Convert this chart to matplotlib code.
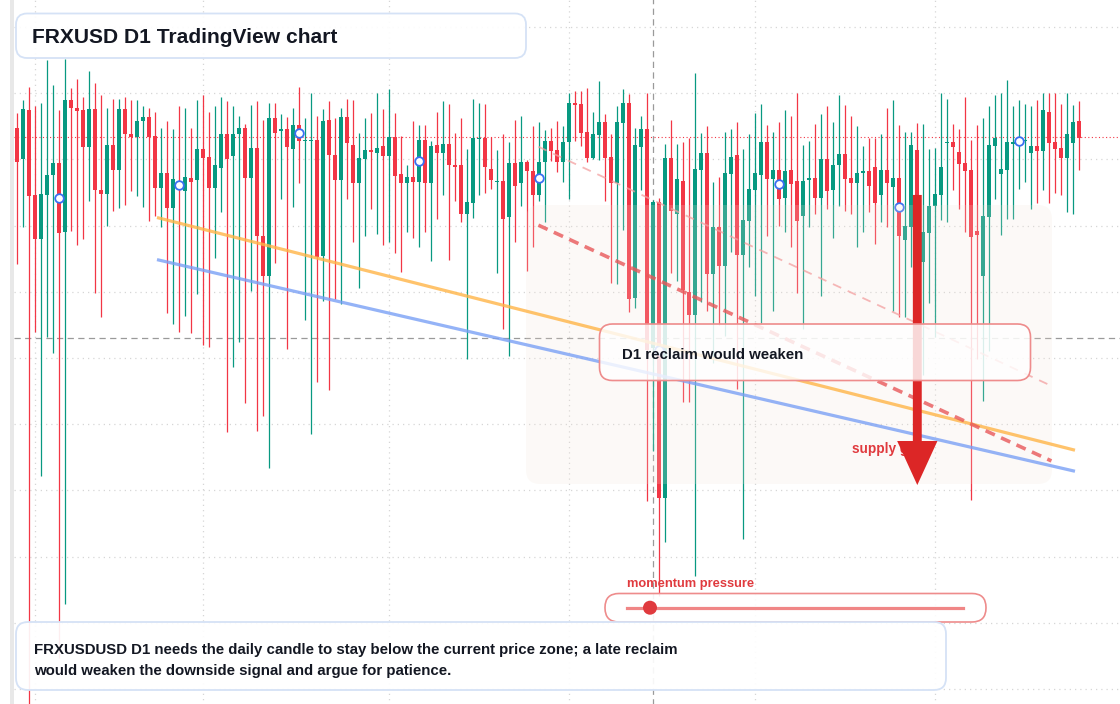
import matplotlib
matplotlib.use("Agg")
import matplotlib.pyplot as plt
import numpy as np
from matplotlib.patches import FancyBboxPatch, FancyArrowPatch, Rectangle, Circle
from matplotlib.lines import Line2D
from matplotlib.transforms import IdentityTransform

# ---------------- data (daily candles) ----------------
opens = [1.1744, 1.1663, 1.1791, 1.1569, 1.1455, 1.1569, 1.1621, 1.1652, 1.1473, 1.1817,
         1.1796, 1.1791, 1.1695, 1.1794, 1.1583, 1.1572, 1.1699, 1.1633, 1.1794, 1.1728,
         1.1720, 1.1762, 1.1773, 1.1723, 1.1588, 1.1626, 1.1536, 1.1605, 1.1580, 1.1613,
         1.1609, 1.1689, 1.1668, 1.1588, 1.1640, 1.1728, 1.1672, 1.1728, 1.1744, 1.1612,
         1.1692, 1.1463, 1.1356, 1.1770, 1.1737, 1.1741, 1.1690, 1.1752, 1.1709, 1.1709,
         1.1713, 1.1410, 1.1765, 1.1674, 1.1609, 1.1773, 1.1700, 1.1599, 1.1664, 1.1686,
         1.1679, 1.1697, 1.1672, 1.1720, 1.1624, 1.1601, 1.1616, 1.1604, 1.1713, 1.1599,
         1.1700, 1.1679, 1.1702, 1.1648, 1.1648, 1.1518, 1.1549, 1.1715, 1.1718, 1.1637,
         1.1603, 1.1605, 1.1512, 1.1652, 1.1599, 1.1655, 1.1632, 1.1570, 1.1655, 1.1710,
         1.1686, 1.1655, 1.1707, 1.1809, 1.1807, 1.1733, 1.1666, 1.1726, 1.1760, 1.1668,
         1.1601, 1.1757, 1.1809, 1.1301, 1.1695, 1.1741, 1.1170, 1.1551, 1.0778, 1.1665,
         1.1518, 1.1606, 1.1315, 1.1255, 1.1634, 1.1679, 1.1363, 1.1484, 1.1384, 1.1624,
         1.1674, 1.1413, 1.1502, 1.1583, 1.1622, 1.1707, 1.1611, 1.1634, 1.1562, 1.1634,
         1.1606, 1.1515, 1.1609, 1.1614, 1.1562, 1.1663, 1.1583, 1.1646, 1.1676, 1.1613,
         1.1601, 1.1626, 1.1632, 1.1642, 1.1570, 1.1634, 1.1591, 1.1613, 1.1450, 1.1486,
         1.1686, 1.1395, 1.1470, 1.1539, 1.1570, 1.1705, 1.1707, 1.1681, 1.1653, 1.1634,
         1.1476, 1.1356, 1.1512, 1.1697, 1.1624, 1.1634, 1.1702, 1.1708, 1.1710, 1.1679,
         1.1697, 1.1684, 1.1786, 1.1707, 1.1692, 1.1666, 1.1705, 1.1762]
closes = [1.1656, 1.1794, 1.1567, 1.1455, 1.1571, 1.1621, 1.1652, 1.1470, 1.1817, 1.1795,
          1.1789, 1.1695, 1.1794, 1.1583, 1.1572, 1.1699, 1.1633, 1.1794, 1.1727, 1.1720,
          1.1762, 1.1773, 1.1720, 1.1588, 1.1626, 1.1536, 1.1611, 1.1585, 1.1616, 1.1604,
          1.1689, 1.1666, 1.1588, 1.1647, 1.1728, 1.1664, 1.1728, 1.1744, 1.1612, 1.1692,
          1.1463, 1.1356, 1.1770, 1.1732, 1.1741, 1.1695, 1.1752, 1.1710, 1.1713, 1.1713,
          1.1408, 1.1762, 1.1674, 1.1609, 1.1773, 1.1705, 1.1601, 1.1666, 1.1687, 1.1681,
          1.1692, 1.1672, 1.1720, 1.1619, 1.1599, 1.1616, 1.1604, 1.1713, 1.1599, 1.1697,
          1.1679, 1.1702, 1.1646, 1.1643, 1.1518, 1.1551, 1.1718, 1.1718, 1.1643, 1.1609,
          1.1605, 1.1507, 1.1652, 1.1593, 1.1655, 1.1632, 1.1570, 1.1655, 1.1710, 1.1684,
          1.1655, 1.1707, 1.1809, 1.1804, 1.1731, 1.1666, 1.1728, 1.1760, 1.1666, 1.1601,
          1.1760, 1.1809, 1.1296, 1.1700, 1.1741, 1.1163, 1.1551, 1.0778, 1.1665, 1.1526,
          1.1611, 1.1321, 1.1256, 1.1637, 1.1679, 1.1363, 1.1484, 1.1384, 1.1626, 1.1668,
          1.1413, 1.1504, 1.1585, 1.1626, 1.1707, 1.1611, 1.1634, 1.1559, 1.1632, 1.1598,
          1.1502, 1.1606, 1.1614, 1.1562, 1.1663, 1.1580, 1.1648, 1.1676, 1.1611, 1.1601,
          1.1626, 1.1632, 1.1593, 1.1549, 1.1634, 1.1601, 1.1613, 1.1463, 1.1489, 1.1700,
          1.1395, 1.1472, 1.1540, 1.1571, 1.1642, 1.1707, 1.1695, 1.1650, 1.1632, 1.1460,
          1.1465, 1.1514, 1.1700, 1.1718, 1.1637, 1.1707, 1.1707, 1.1710, 1.1713, 1.1697,
          1.1684, 1.1791, 1.1705, 1.1689, 1.1666, 1.1728, 1.1760, 1.1718]
highs = [1.1784, 1.1817, 1.1851, 1.1801, 1.1809, 1.1922, 1.1856, 1.1791, 1.1925, 1.1848,
         1.1872, 1.1825, 1.1893, 1.1861, 1.1830, 1.1796, 1.1820, 1.1820, 1.1825, 1.1817,
         1.1817, 1.1801, 1.1796, 1.1786, 1.1744, 1.1762, 1.1741, 1.1801, 1.1796, 1.1744,
         1.1817, 1.1830, 1.1786, 1.1801, 1.1825, 1.1814, 1.1801, 1.1775, 1.1754, 1.1804,
         1.1814, 1.1765, 1.1809, 1.1809, 1.1780, 1.1773, 1.1796, 1.1851, 1.1770, 1.1835,
         1.1775, 1.1794, 1.1814, 1.1770, 1.1796, 1.1820, 1.1817, 1.1731, 1.1770, 1.1783,
         1.1835, 1.1794, 1.1846, 1.1783, 1.1723, 1.1648, 1.1762, 1.1752, 1.1752, 1.1710,
         1.1786, 1.1814, 1.1807, 1.1731, 1.1770, 1.1689, 1.1820, 1.1809, 1.1807, 1.1720,
         1.1687, 1.1728, 1.1707, 1.1765, 1.1775, 1.1661, 1.1749, 1.1760, 1.1739, 1.1744,
         1.1762, 1.1749, 1.1835, 1.1841, 1.1841, 1.1848, 1.1786, 1.1867, 1.1780, 1.1728,
         1.1801, 1.1846, 1.1834, 1.1744, 1.1775, 1.1835, 1.1555, 1.1560, 1.1702, 1.1765,
         1.1702, 1.1708, 1.1718, 1.1888, 1.1731, 1.1749, 1.1603, 1.1616, 1.1733, 1.1741,
         1.1760, 1.1689, 1.1728, 1.1783, 1.1807, 1.1752, 1.1733, 1.1760, 1.1791, 1.1775,
         1.1835, 1.1699, 1.1710, 1.1754, 1.1780, 1.1801, 1.1760, 1.1830, 1.1804, 1.1775,
         1.1749, 1.1697, 1.1718, 1.1718, 1.1728, 1.1796, 1.1817, 1.1752, 1.1733, 1.1733,
         1.1756, 1.1754, 1.1689, 1.1692, 1.1835, 1.1820, 1.1754, 1.1741, 1.1825, 1.1713,
         1.1752, 1.1770, 1.1801, 1.1830, 1.1835, 1.1869, 1.1801, 1.1817, 1.1807, 1.1801,
         1.1817, 1.1835, 1.1835, 1.1835, 1.1807, 1.1835, 1.1804, 1.1814]
lows = [1.1389, 1.1484, 1.0230, 1.1210, 1.0834, 1.1199, 1.1157, 1.0359, 1.0500, 1.1476,
        1.1437, 1.1455, 1.1552, 1.1314, 1.1249, 1.1489, 1.1528, 1.1536, 1.1544, 1.1580,
        1.1565, 1.1538, 1.1500, 1.1515, 1.1484, 1.1260, 1.1233, 1.1210, 1.1252, 1.1208,
        1.1309, 1.1178, 1.1171, 1.1405, 1.1525, 1.0950, 1.1120, 1.1186, 1.1026, 1.1319,
        1.0953, 1.0992, 1.0856, 1.1392, 1.1559, 1.1166, 1.1538, 1.1601, 1.1243, 1.0944,
        1.1081, 1.1293, 1.1060, 1.1298, 1.1283, 1.1559, 1.1447, 1.1327, 1.1463, 1.1531,
        1.1468, 1.1437, 1.1447, 1.1416, 1.1367, 1.1473, 1.1457, 1.1432, 1.1473, 1.1397,
        1.1507, 1.1570, 1.1400, 1.1554, 1.1497, 1.1140, 1.1510, 1.1570, 1.1575, 1.1585,
        1.1366, 1.1220, 1.1149, 1.1447, 1.1541, 1.1369, 1.1434, 1.1552, 1.1499, 1.1659,
        1.1630, 1.1604, 1.1559, 1.1710, 1.1697, 1.1655, 1.1663, 1.1661, 1.1552, 1.1340,
        1.1335, 1.1478, 1.1263, 1.1273, 1.1583, 1.0770, 1.0900, 1.0522, 1.0662, 1.1366,
        1.1343, 1.1029, 1.1029, 1.0573, 1.1288, 1.1265, 1.1130, 1.1230, 1.1200, 1.1420,
        1.1063, 1.0670, 1.1380, 1.1306, 1.1234, 1.1463, 1.1265, 1.1489, 1.1473, 1.1432,
        1.1314, 1.1220, 1.1486, 1.1518, 1.1306, 1.1533, 1.1457, 1.1541, 1.1528, 1.1520,
        1.1432, 1.1473, 1.1525, 1.1442, 1.1499, 1.1486, 1.1265, 1.1249, 1.1250, 1.1382,
        1.1360, 1.1099, 1.1287, 1.1199, 1.1504, 1.1497, 1.1583, 1.1531, 1.1473, 1.0773,
        1.1140, 1.1030, 1.1160, 1.1559, 1.1465, 1.1505, 1.1507, 1.1585, 1.1604, 1.1531,
        1.1549, 1.1583, 1.1549, 1.1575, 1.1570, 1.1525, 1.1518, 1.1635]

grid_levels = [1.2008, 1.1835, 1.1662, 1.1489, 1.1316, 1.1143, 1.0970, 1.0797,
               1.0624, 1.0451, 1.0278]
month_starts = [3, 31, 62, 92, 123, 153]
current_price = 1.1720
reference_level = 1.1195
event_index = 106
marker_every = 20
marker_first = 7

orange_x, orange_y = [23.33, 176.33], [1.1510, 1.0902]
blue_x, blue_y = [23.33, 176.33], [1.1400, 1.0847]
red_x, red_y = [86.9, 172.4], [1.1490, 1.0874]
pink_x, pink_y = [86.9, 172.4], [1.1695, 1.1070]
arrow_index, arrow_from, arrow_to = 150.05, 1.1569, 1.0811

title = "FRXUSD D1 TradingView chart"
note_lines = ["FRXUSDUSD D1 needs the daily candle to stay below the current price zone; a late reclaim",
              "would weaken the downside signal and argue for patience."]
box_label = "D1 reclaim would weaken"
supply_label = "supply gate"
momentum_label = "momentum pressure"

# ---------------- figure ----------------
W, H = 1120, 704
fig = plt.figure(figsize=(W / 100, H / 100), dpi=100)
ax = fig.add_axes([0, 0, 1, 1])
ax.set_axis_off()
fig.patch.set_facecolor("white")
ID = IdentityTransform()
FONT = "Liberation Sans"

GREEN = "#089981"
RED = "#f23645"

n = len(opens)
idx = np.arange(n)
o = np.array(opens); c = np.array(closes)
hi = np.array(highs); lo = np.array(lows)
up = c >= o
cols = np.where(up, GREEN, RED)

# grid
x_left = -0.5
ax.hlines(grid_levels, x_left, 200, colors="#d6d6d6", linewidth=0.9,
          linestyles=(0, (1, 3.2)), zorder=0)
ax.vlines(month_starts, 0.9, 1.3, colors="#d6d6d6", linewidth=0.9,
          linestyles=(0, (1, 3.2)), zorder=0)

# reference lines
ax.hlines([reference_level], x_left, 200, colors="#9a9a9a", linewidth=0.9,
          linestyles=(0, (5, 3.5)), zorder=1)
ax.hlines([current_price], x_left, 200, colors=RED, linewidth=0.8,
          linestyles=(0, (1, 2.2)), zorder=1.5)
ax.vlines([event_index], 0.9, 1.3, colors="#9a9a9a", linewidth=0.9,
          linestyles=(0, (5, 3.5)), zorder=1)

# candles
ax.vlines(idx, lo, hi, colors=cols, linewidth=0.9, zorder=2)
body_min = 0.00035
bottoms = np.minimum(o, c)
heights = np.maximum(np.abs(c - o), body_min)
ax.bar(idx, heights, bottom=bottoms, width=0.82, color=cols, linewidth=0, zorder=2.1)

# markers
mi = np.arange(marker_first, n, marker_every)
ax.plot(mi, (o[mi] + c[mi]) / 2, linestyle="none", marker="o", markersize=6.2,
        markerfacecolor="white", markeredgecolor="#3a6ff2", markeredgewidth=1.3, zorder=2.5)

# left strip
ax.add_patch(Rectangle((10, 0), 4, H, transform=ID, facecolor="#e8e8e8",
                       edgecolor="none", zorder=3))

def pbox(x0, y0, x1, y1, r, **kw):
    p = FancyBboxPatch((x0, H - y1), x1 - x0, y1 - y0,
                       boxstyle=f"round,pad=0,rounding_size={r}", transform=ID, **kw)
    ax.add_patch(p)
    return p

# shaded zone overlay
pbox(526, 205, 1052, 484, 14, facecolor="#f3e4d8", alpha=0.2, edgecolor="none", zorder=3)

# trend lines
ax.plot(orange_x, orange_y, color="#ffb547", alpha=0.8, linewidth=2.3,
        solid_capstyle="butt", zorder=4)
ax.plot(blue_x, blue_y, color="#7aa0f5", alpha=0.8, linewidth=2.3,
        solid_capstyle="butt", zorder=4)
ax.plot(red_x, red_y, color="#e8585a", alpha=0.8, linewidth=2.6,
        linestyle=(0, (2.8, 1.9)), zorder=4.1)
ax.plot(pink_x, pink_y, color="#f3a0a0", alpha=0.75, linewidth=1.3,
        linestyle=(0, (5, 4)), zorder=4.1)

# supply label (under the arrow)
ax.text(851.5, H - 452.5, supply_label, transform=ID, fontsize=9.8, fontweight="bold",
        color="#e03a3e", family=FONT, va="baseline", ha="left", zorder=4.5)

# arrow
arr = FancyArrowPatch((arrow_index, arrow_from), (arrow_index, arrow_to),
                      arrowstyle="simple,head_length=3.17,head_width=2.9,tail_width=0.64",
                      mutation_scale=10, color="#dc2626", shrinkA=0, shrinkB=0,
                      linewidth=0, zorder=5)
ax.add_patch(arr)

# D1 box
pbox(599.5, 324, 1030.5, 380.5, 13, facecolor=(1, 1, 1, 0.82), edgecolor="#ee8c8c",
     linewidth=1.2, zorder=6)
ax.text(622.3, H - 359, box_label, transform=ID, fontsize=10.8, fontweight="bold",
        color="#131722", family=FONT, va="baseline", ha="left", zorder=6.5)

# title box
pbox(16, 13.5, 526, 58, 11, facecolor=(1, 1, 1, 0.92), edgecolor="#d5e2f6",
     linewidth=1.3, zorder=7)
ax.text(32, H - 43.3, title, transform=ID, fontsize=15.1, fontweight="bold",
        color="#131722", family=FONT, va="baseline", ha="left", zorder=7.5)

# momentum widget
ax.text(627.3, H - 587.3, momentum_label, transform=ID, fontsize=9.3, fontweight="bold",
        color="#e03a3e", family=FONT, va="baseline", ha="left", zorder=7.5)
pbox(605, 593.5, 986, 622, 14, facecolor=(1, 1, 1, 0.9), edgecolor="#ee8c8c",
     linewidth=1.2, zorder=7)
ax.add_line(Line2D([627.3, 962.7], [H - 607.7, H - 607.7], transform=ID,
                   color="#f08686", linewidth=2.3, zorder=7.2))
ax.add_patch(Circle((650, H - 607.7), 7, transform=ID, facecolor="#e03a3e",
                    edgecolor="none", zorder=7.3))

# note box
pbox(16, 622, 946, 690, 12, facecolor=(1, 1, 1, 0.92), edgecolor="#d5e2f6",
     linewidth=1.3, zorder=7)
for k, line in enumerate(note_lines):
    ax.text(34, H - (654 + 20.5 * k), line, transform=ID, fontsize=10.85, fontweight="bold",
            color="#131722", family=FONT, va="baseline", ha="left", zorder=7.5)

# scales: pixel-aligned view of index / price
ax.set_xlim(-17 / 6, (W - 17) / 6)
ax.set_ylim(1.2 - (H - 30) * 2.613 / 1e4, 1.2 + 30 * 2.613 / 1e4)

fig.savefig("out.png", dpi=100)
